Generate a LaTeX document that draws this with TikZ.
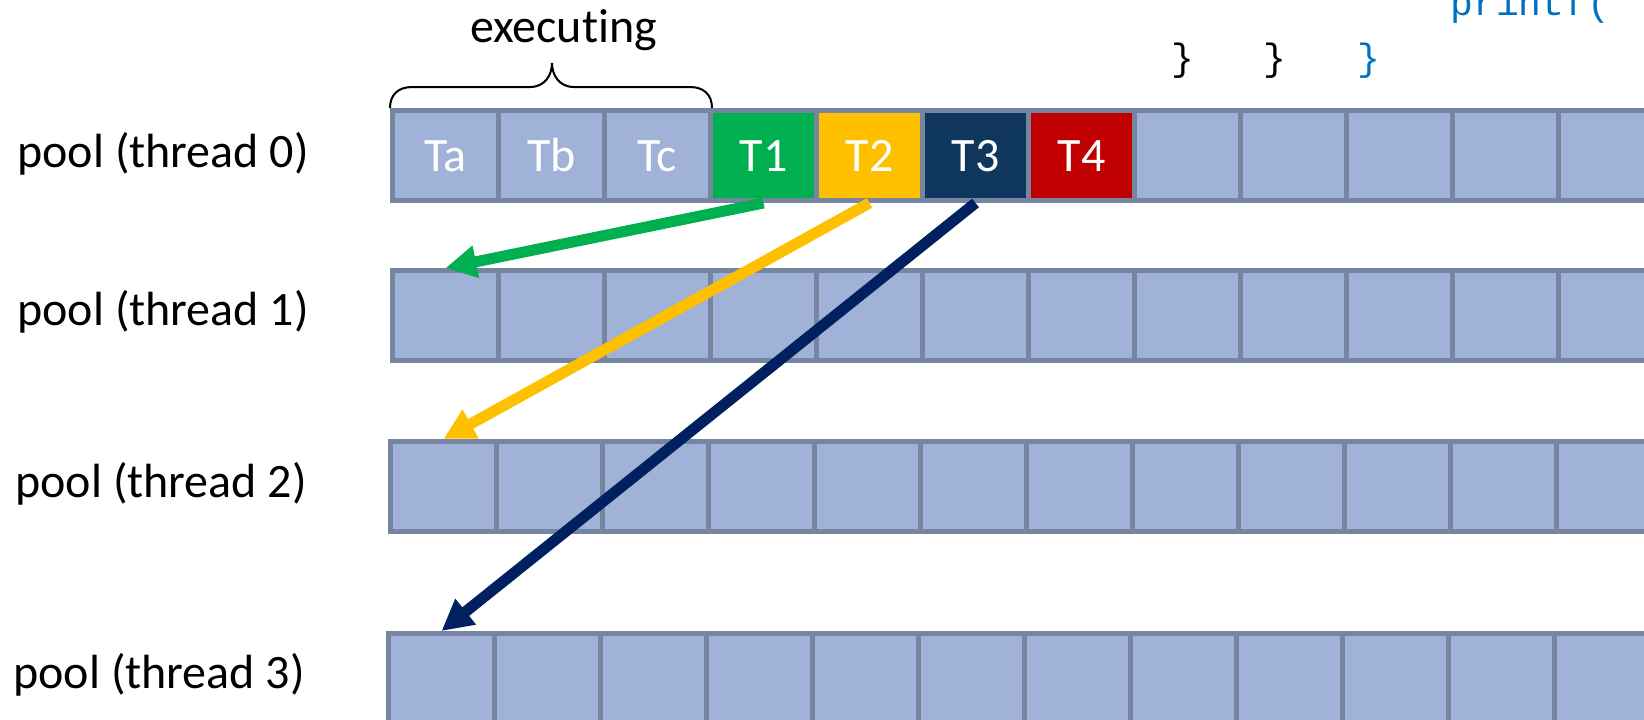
\documentclass[tikz,border=0pt]{standalone}
\usepackage{fontspec}
\setmainfont{Carlito}[RawFeature={-liga;-clig;-dlig;-calt}]
\newfontfamily\codefont{Liberation Mono}
\usetikzlibrary{arrows.meta}
\definecolor{cellfill}{HTML}{A1B2D8}
\definecolor{cellline}{HTML}{7685A0}
\definecolor{tgreen}{HTML}{00B050}
\definecolor{tyellow}{HTML}{FFC000}
\definecolor{tnavy}{HTML}{0F365C}
\definecolor{tred}{HTML}{C00000}
\definecolor{arrnavy}{HTML}{002060}
\definecolor{codeblue}{HTML}{0070C0}
\begin{document}
\begin{tikzpicture}[x=0.5pt,y=-0.5pt,
  cell/.style={draw=cellline, line width=2.5pt, fill=cellfill, minimum width=53pt, minimum height=45pt, inner sep=0pt, text=white, font=\fontsize{24pt}{28pt}\selectfont, text height=15.5pt, text depth=0pt},
  lbl/.style={font=\fontsize{24pt}{28pt}\selectfont, inner sep=0pt, anchor=base west},
  flow/.style={line width=5.5pt, -{Triangle[length=15.5pt,width=15.5pt]}},
  code/.style={font=\codefont\fontsize{19pt}{22pt}\selectfont, inner sep=0pt, anchor=base}]
\useasboundingbox (0,0) rectangle (1644,719);
\clip (0,0) rectangle (1644,719);
% row 0
\foreach \k/\t/\f in {0/Ta/cellfill, 1/Tb/cellfill, 2/Tc/cellfill, 3/T1/tgreen, 4/T2/tyellow, 5/T3/tnavy, 6/T4/tred, 7//cellfill, 8//cellfill, 9//cellfill, 10//cellfill, 11//cellfill}
  {\node[cell, fill=\f] (c0-\k) at ({392.5+53+106*\k},155.5) {\t};}
% rows 1-3
\foreach \r/\lx/\cy in {1/392.5/315.5, 2/390.5/486.5, 3/388.5/678.5}
  {\foreach \k in {0,...,11}
    {\node[cell] (c\r-\k) at ({\lx+53+106*\k},\cy) {};}}
% labels
\node[lbl] (p0) at (17,167) {pool (thread 0)};
\node[lbl] (p1) at (17,325) {pool (thread 1)};
\node[lbl] (p2) at (15,497) {pool (thread 2)};
\node[lbl] (p3) at (13,688) {pool (thread 3)};
\node[font=\fontsize{24pt}{28pt}\selectfont, anchor=base, inner sep=0pt] (exec) at (563.5,42) {execut\kern0pt ing};
% brace
\draw[line width=1pt] (390,108) .. controls (390,95) and (398,87) .. (412,87) -- (530,87)
  .. controls (545,87) and (552,75) .. (552,63)
  .. controls (552,75) and (559,87) .. (574,87) -- (690,87)
  .. controls (704,87) and (712,95) .. (712,108);
% code fragments
\node[code, anchor=base west, text=codeblue] (pf) at (1450,15) {printf(};
\node[code] (b1) at (1182.5,70) {\}};
\node[code] (b2) at (1275,70) {\}};
\node[code, text=codeblue] (b3) at (1369,70) {\}};
% arrows
\draw[flow, tgreen] (c0-3.south) -- (c1-0.north);
\draw[flow, tyellow] (c0-4.south) -- (c2-0.north);
\draw[flow, arrnavy] (c0-5.south) -- (c3-0.north);
\end{tikzpicture}
\end{document}
